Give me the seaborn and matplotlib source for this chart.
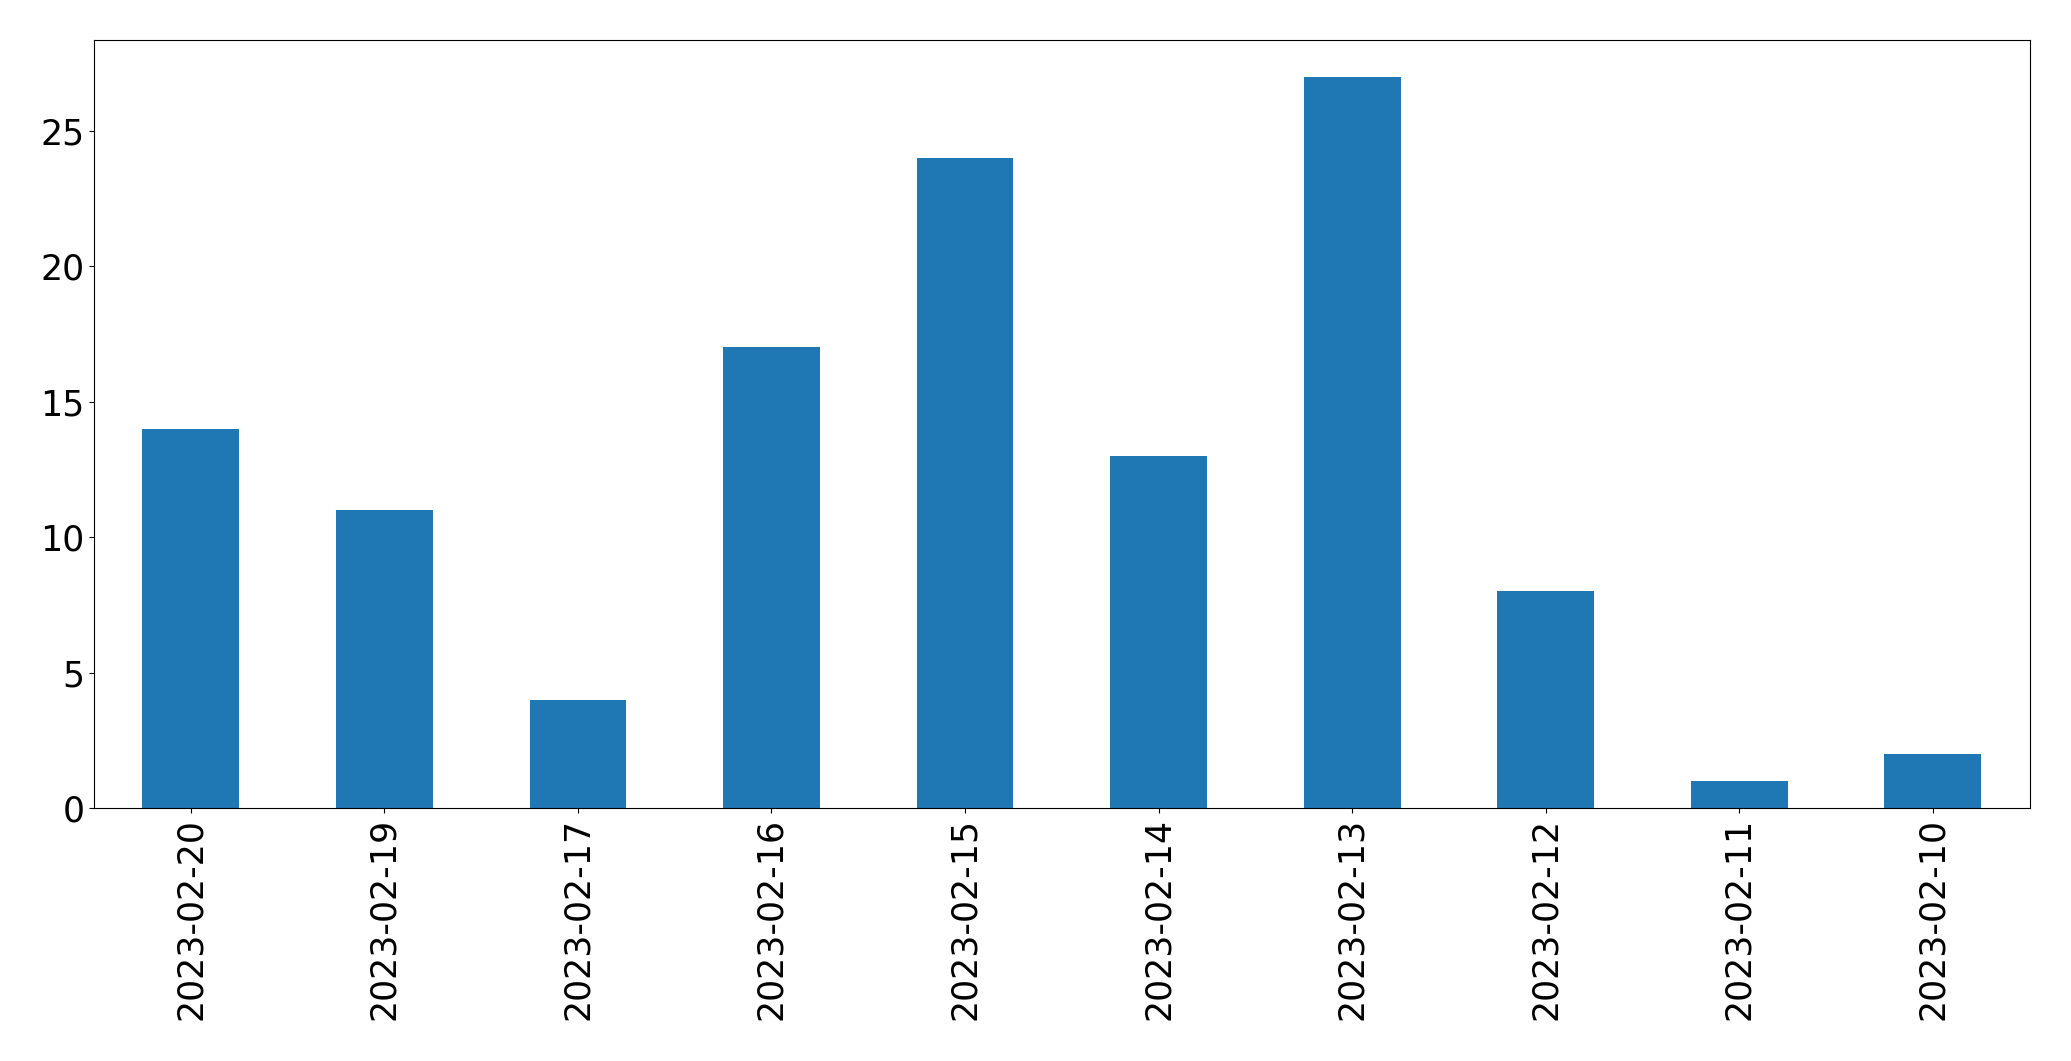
import matplotlib
matplotlib.use("Agg")
import matplotlib.pyplot as plt
import seaborn as sns
import pandas as pd

# counts per day, in the order shown
dates = ['2023-02-20', '2023-02-19', '2023-02-17', '2023-02-16', '2023-02-15',
         '2023-02-14', '2023-02-13', '2023-02-12', '2023-02-11', '2023-02-10']
counts = [14, 11, 4, 17, 24, 13, 27, 8, 1, 2]

df = pd.DataFrame({'date': dates, 'count': counts})

fig, ax = plt.subplots(figsize=(20.71, 10.61), dpi=100)
sns.barplot(data=df, x='date', y='count', order=dates, color='#1f77b4',
            saturation=1, width=0.5, ax=ax)
ax.set_xlim(-0.5, len(dates) - 0.5)
ax.set_ylim(0, max(counts) * 1.05)
ax.set_xlabel('')
ax.set_ylabel('')
ax.tick_params(axis='both', labelsize=25)
ax.tick_params(axis='x', labelrotation=90)
fig.subplots_adjust(left=0.0454, right=0.980, top=0.9623, bottom=0.2385)
fig.savefig('out.png', dpi=100)
